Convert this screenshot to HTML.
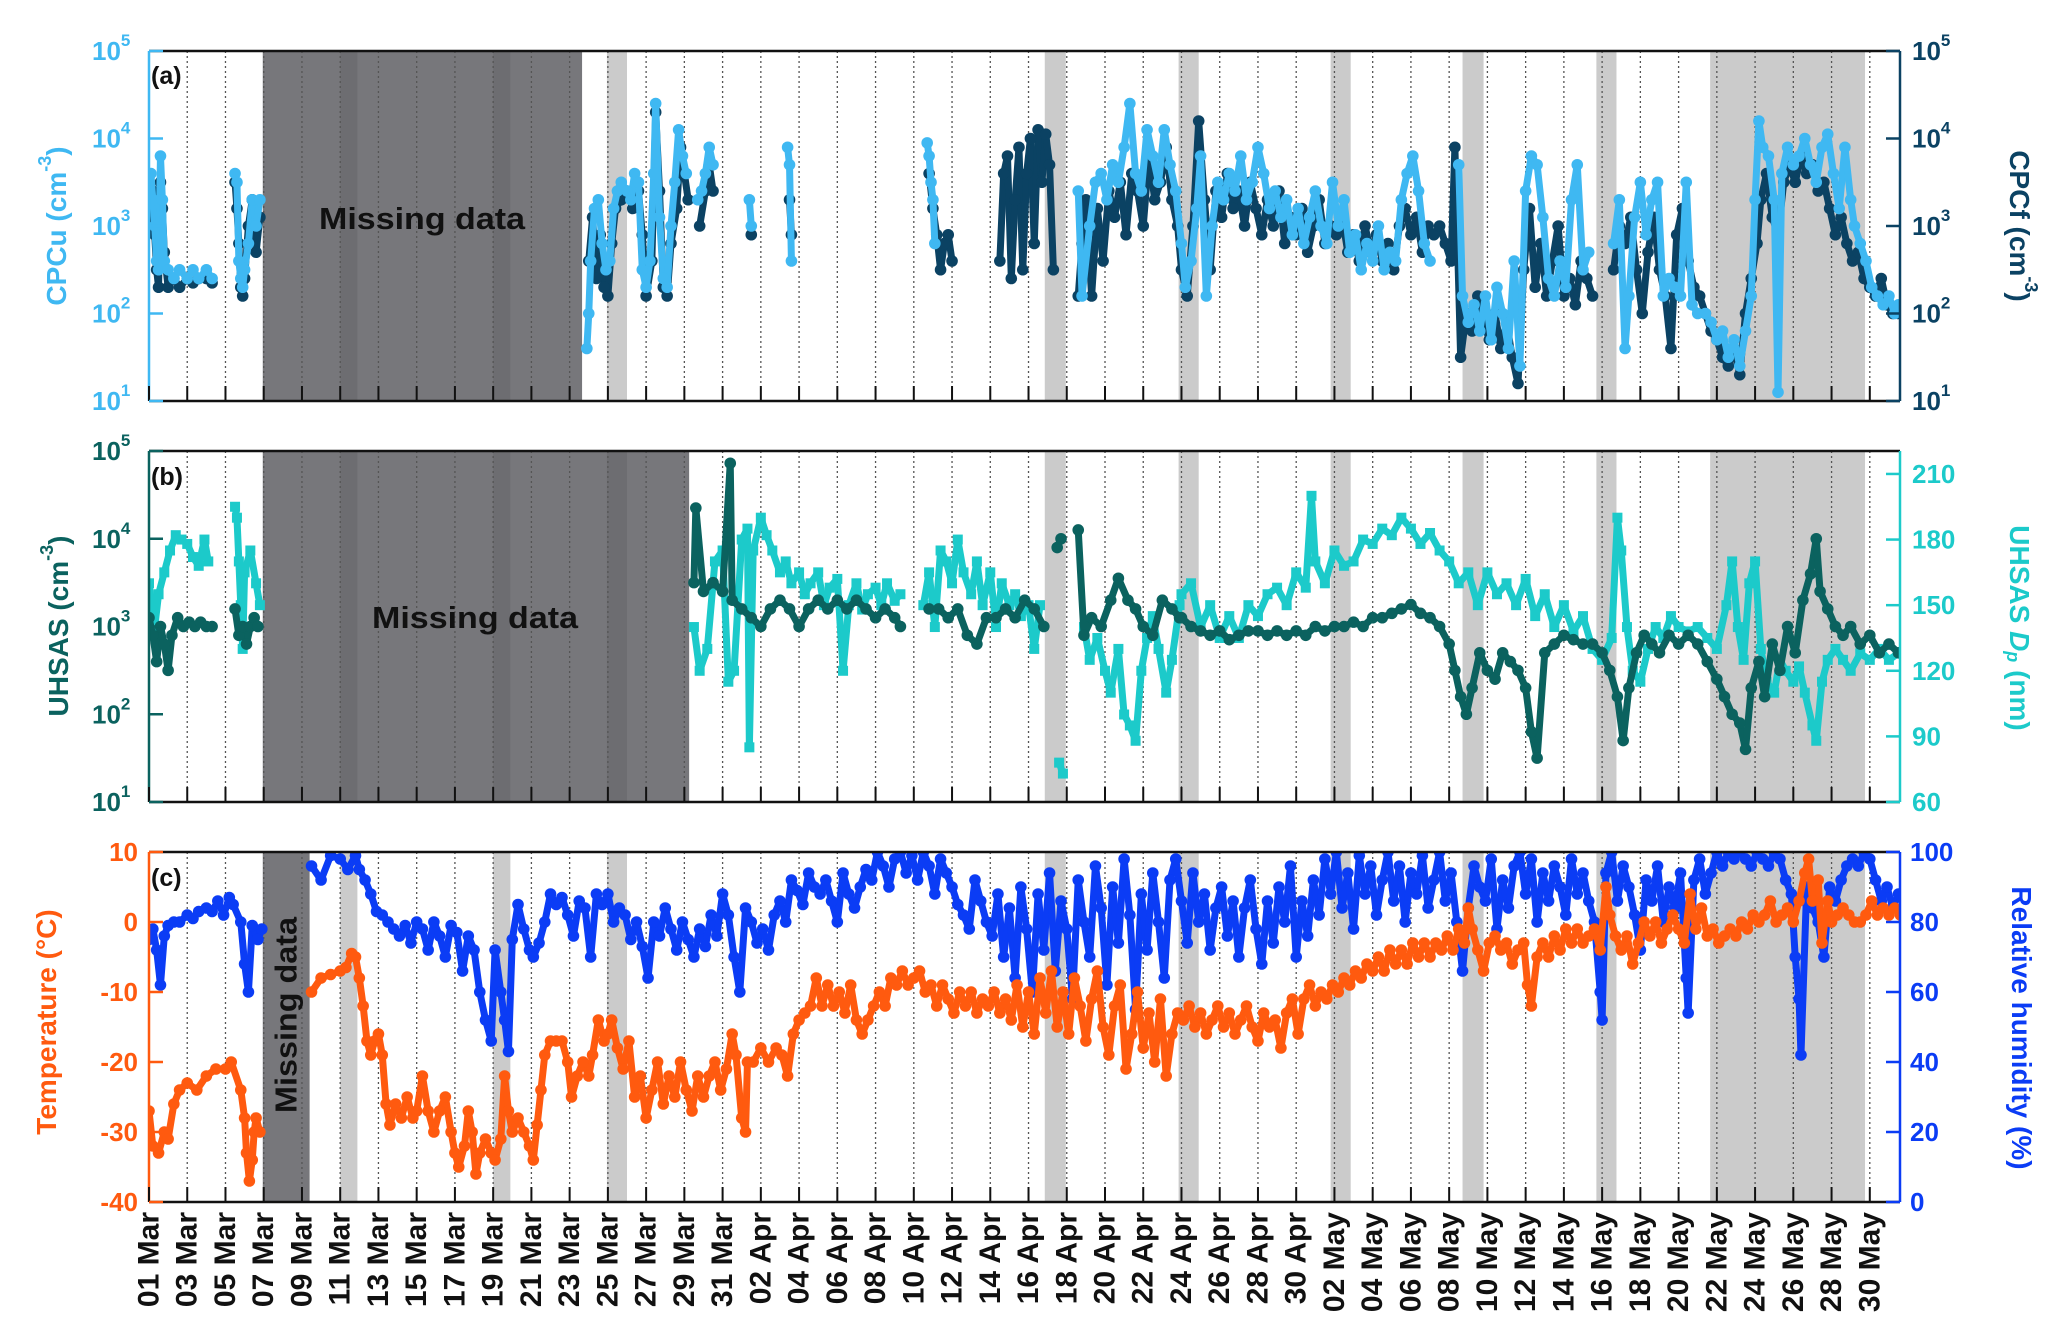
<!DOCTYPE html>
<html><head><meta charset="utf-8">
<style>
html,body{margin:0;padding:0;background:#fff;}
svg{display:block;font-family:"Liberation Sans",Arial,sans-serif;font-weight:bold;}
</style></head>
<body>
<svg id="chart" xmlns="http://www.w3.org/2000/svg" width="2067" height="1340" viewBox="0 0 2067 1340">
<defs>
<clipPath id="clipA"><rect x="149" y="51" width="1751" height="350"/></clipPath>
<clipPath id="clipB"><rect x="149" y="451" width="1751" height="351"/></clipPath>
<clipPath id="clipC"><rect x="149" y="852" width="1751" height="350"/></clipPath>
</defs>
<g id="root"></g>
</svg>
<script>
// ---------- data (day 0 = 01 Mar 00:00) ----------
const tickDays = [0,2,4,6,8,10,12,14,16,18,20,22,24,26,28,30,32,34,36,38,40,42,44,46,48,50,52,54,56,58,60,62,64,66,68,70,72,74,76,78,80,82,84,86,88,90];
const lightBands = [[10.0,0.9],[18.0,0.9],[23.95,1.05],[46.85,1.1],[53.85,1.05],[61.8,1.05],[68.7,1.1],[75.7,1.05],[81.65,8.1]];
const darkA = [5.95,16.7];
const darkB = [5.95,22.3];
const darkC = [5.95,2.45];
const logTicks = [1,2,3,4,5];
const dpTicks = [60,90,120,150,180,210];
const tempTicks = [-40,-30,-20,-10,0,10];
const rhTicks = [0,20,40,60,80,100];

const cpcfLog10 = [[0,3.0],[0.2,3.4],[0.3,2.9],[0.4,2.5],[0.5,2.3],[0.6,3.5],[0.7,3.2],[0.8,2.7],[1.0,2.3],[1.3,2.4],[1.6,2.3],[2.0,2.4],[2.3,2.35],[2.6,2.4],[3.0,2.4],[3.3,2.35],
[4.5,3.5],[4.6,3.2],[4.7,2.8],[4.8,2.3],[4.9,2.2],[5.0,2.4],[5.2,3.0],[5.4,3.3],[5.6,2.7],[5.8,3.1],
[23.0,2.6],[23.2,3.1],[23.4,2.4],[23.6,2.9],[23.8,2.3],[24.0,2.2],[24.2,2.8],[24.4,3.2],[24.7,3.3],[25.0,3.4],[25.3,3.2],[25.6,3.4],[25.8,2.9],[26.0,2.2],[26.3,2.6],[26.5,4.3],[26.7,3.4],[26.9,2.3],[27.1,2.2],[27.3,2.8],[27.6,3.2],[27.8,3.9],[28.0,3.6],[28.2,3.3],[28.8,3.0],[29.1,3.4],[29.3,3.7],[29.5,3.4],
[31.5,2.9],[33.5,3.3],[33.6,2.9],
[40.8,3.6],[41.0,3.2],[41.2,2.9],[41.4,2.5],[41.6,2.8],[41.8,2.9],[42.0,2.6],
[44.5,2.6],[44.7,3.6],[44.9,3.8],[45.1,2.4],[45.3,3.3],[45.5,3.9],[45.7,2.5],[45.9,3.6],[46.1,4.0],[46.3,2.8],[46.5,4.1],[46.7,3.5],[46.9,4.05],[47.1,3.7],[47.3,2.5],
[48.6,2.2],[48.8,2.8],[49.0,3.3],[49.3,2.2],[49.6,3.2],[49.9,2.6],[50.2,3.4],[50.5,3.1],[50.8,3.5],[51.1,2.9],[51.4,3.6],[51.7,3.4],[52.0,3.0],[52.3,3.8],[52.6,3.3],[52.9,3.5],[53.2,3.9],[53.5,3.3],[53.8,3.0],
[54.0,2.5],[54.3,2.2],[54.6,3.0],[54.9,4.2],[55.2,3.3],[55.5,2.5],[55.8,3.4],[56.1,3.1],[56.4,3.6],[56.7,3.2],[57.0,3.4],[57.3,3.0],[57.6,3.5],[57.9,3.2],[58.2,2.9],[58.5,3.3],[58.8,3.0],[59.1,3.4],[59.4,2.8],[59.7,3.1],[60.0,2.9],[60.3,3.2],[60.6,2.7],[60.9,3.0],[61.2,3.3],[61.5,2.8],[61.8,3.0],[62.1,2.9],[62.4,3.1],[62.7,2.7],[63.0,2.9],[63.3,2.6],[63.6,3.0],[63.9,2.7],[64.2,2.9],[64.5,2.6],[64.8,2.8],[65.1,2.5],[65.4,3.0],[65.7,3.2],[66.0,2.9],[66.3,3.1],[66.6,2.7],[66.9,3.0],[67.2,2.9],[67.5,3.0],[67.8,2.8],[68.1,2.6],[68.3,3.9],
[68.6,1.5],[68.9,2.0],[69.2,1.8],[69.5,2.2],[69.8,1.9],[70.1,1.7],[70.4,2.0],[70.7,1.6],[71.0,1.9],[71.3,1.5],[71.6,1.2],[71.9,2.5],[72.2,3.2],[72.5,2.3],[72.8,2.8],[73.1,2.2],[73.4,2.6],[73.7,3.0],[74.0,2.2],[74.3,2.4],[74.6,2.1],[74.9,2.6],[75.2,2.4],[75.5,2.2],
[76.6,2.5],[76.9,3.0],[77.2,2.8],[77.5,3.1],[77.8,2.5],[78.1,2.0],[78.4,2.7],[78.7,3.1],[79.0,2.5],[79.3,2.2],[79.6,1.6],[79.9,2.9],[80.2,3.2],[80.5,2.6],[80.8,2.3],[81.1,2.2],
[81.4,2.0],[81.7,1.8],[82.0,1.7],[82.3,1.5],[82.6,1.4],[82.9,1.6],[83.2,1.3],[83.5,2.0],[83.8,2.4],[84.1,2.8],[84.3,3.3],[84.6,3.6],[84.9,3.1],[85.2,2.9],[85.5,3.5],[85.8,3.7],[86.1,3.5],[86.4,3.8],[86.7,3.6],[87.0,3.7],[87.3,3.4],[87.6,3.5],[87.9,3.2],[88.2,2.9],[88.5,3.1],[88.8,2.8],[89.1,2.6],[89.4,2.7],[89.7,2.4],[90.0,2.3],[90.3,2.2],[90.6,2.4],[90.9,2.1],[91.2,2.0],[91.5,2.0]];

const cpcuLog10 = [[0,3.5],[0.1,3.6],[0.2,3.3],[0.3,3.0],[0.4,2.6],[0.5,2.5],[0.6,3.8],[0.7,3.3],[0.8,2.6],[1.0,2.5],[1.3,2.4],[1.6,2.5],[2.0,2.4],[2.3,2.5],[2.6,2.4],[3.0,2.5],[3.3,2.4],
[4.5,3.6],[4.6,3.5],[4.7,2.6],[4.8,2.4],[4.9,2.3],[5.0,2.5],[5.2,2.8],[5.4,3.3],[5.6,3.0],[5.8,3.3],
[22.9,1.6],[23.0,2.0],[23.1,2.6],[23.3,3.2],[23.5,3.3],[23.7,2.8],[23.9,2.5],[24.1,2.6],[24.3,3.2],[24.5,3.4],[24.7,3.5],[25.0,3.4],[25.2,3.3],[25.4,3.6],[25.6,3.5],[25.8,2.5],[26.0,2.3],[26.2,2.6],[26.4,3.6],[26.5,4.4],[26.7,3.1],[26.9,2.4],[27.1,2.3],[27.3,3.0],[27.5,3.5],[27.7,4.1],[27.9,3.8],[28.1,3.6],[28.7,3.3],[28.9,3.4],[29.1,3.6],[29.3,3.9],[29.5,3.7],
[31.4,3.3],[31.5,3.0],[33.4,3.9],[33.5,3.7],[33.6,2.6],
[40.7,3.95],[40.8,3.8],[40.9,3.5],[41.0,3.3],[41.1,2.8],
[48.6,3.4],[48.8,2.2],[49.2,3.0],[49.5,3.5],[49.8,3.6],[50.1,3.3],[50.4,3.7],[50.7,3.5],[51.0,3.9],[51.3,4.4],[51.6,3.6],[51.9,3.4],[52.2,4.1],[52.5,3.8],[52.8,3.5],[53.1,4.1],[53.4,3.7],[53.7,3.4],
[54.0,2.8],[54.2,2.3],[54.5,2.6],[54.8,3.2],[55.0,3.8],[55.3,2.2],[55.6,3.0],[55.9,3.5],[56.2,3.3],[56.5,3.6],[56.8,3.4],[57.1,3.8],[57.4,3.3],[57.7,3.5],[58.0,3.9],[58.3,3.6],[58.6,3.2],[58.9,3.4],[59.2,3.1],[59.5,3.3],[59.8,2.9],[60.1,3.2],[60.4,2.8],[60.7,3.1],[61.0,3.4],[61.3,3.0],[61.6,2.8],[61.9,3.5],[62.2,3.0],[62.5,3.3],[62.8,2.7],[63.1,2.9],[63.4,2.5],[63.7,2.8],[64.0,2.6],[64.3,3.0],[64.6,2.5],[64.9,2.7],[65.2,2.6],[65.5,3.3],[65.8,3.6],[66.1,3.8],[66.4,3.4],[66.7,2.8],[67.0,2.6],
[68.5,3.7],[68.7,2.2],[69.0,1.9],[69.3,2.1],[69.6,1.8],[69.9,2.2],[70.2,1.7],[70.5,2.3],[70.8,2.0],[71.1,1.6],[71.4,2.6],[71.7,1.4],[72.0,3.4],[72.3,3.8],[72.6,3.7],[72.9,3.1],[73.2,2.4],[73.5,2.2],[73.8,2.6],[74.1,2.3],[74.4,3.3],[74.7,3.7],[75.0,2.5],[75.3,2.7],
[76.6,2.8],[76.9,3.3],[77.2,1.6],[77.4,2.2],[77.7,3.1],[78.0,3.5],[78.3,2.9],[78.6,3.3],[78.9,3.5],[79.2,2.2],[79.5,2.4],[79.8,2.3],[80.1,2.2],[80.4,3.5],[80.7,2.1],[81.0,2.0],
[81.4,2.0],[81.7,1.9],[82.0,1.7],[82.3,1.8],[82.6,1.5],[82.9,1.7],[83.2,1.4],[83.5,1.8],[83.8,2.2],[84.0,3.3],[84.2,4.2],[84.4,3.9],[84.7,3.8],[85.0,3.3],[85.2,1.1],[85.4,3.6],[85.7,3.9],[86.0,3.7],[86.3,3.8],[86.6,4.0],[86.9,3.7],[87.2,3.5],[87.5,3.9],[87.8,4.05],[88.1,3.6],[88.4,3.2],[88.7,3.9],[89.0,3.3],[89.2,3.0],[89.5,2.8],[89.8,2.6],[90.1,2.3],[90.4,2.2],[90.7,2.1],[91.0,2.2],[91.3,2.0],[91.5,2.1]];

const dpNm = [[0,160],[0.3,140],[0.5,155],[0.8,165],[1.1,175],[1.4,182],[1.7,180],[2.0,178],[2.3,172],[2.6,168],[2.9,180],[3.1,170],
[4.5,195],[4.6,190],[4.7,170],[4.8,150],[4.9,130],[5.0,165],[5.3,175],[5.6,160],[5.8,150],
[28.5,140],[28.8,120],[29.2,130],[29.6,170],[30.0,175],[30.3,115],[30.6,120],[31.0,180],[31.3,185],[31.4,85],[31.6,175],[32.0,190],[32.3,182],[32.6,175],[33.0,165],[33.3,170],[33.6,160],[34.0,165],[34.3,155],[34.6,160],[35.0,165],[35.3,150],[35.6,158],[36.0,162],[36.3,120],[36.6,150],[37.0,160],[37.3,148],[37.6,155],[38.0,158],[38.3,150],[38.6,160],[39.0,152],[39.3,155],
[40.5,150],[40.8,165],[41.1,140],[41.4,175],[41.7,170],[42.0,160],[42.3,180],[42.6,165],[43.0,155],[43.3,170],[43.6,150],[44.0,165],[44.3,140],[44.6,160],[45.0,150],[45.3,155],[45.6,145],[46.0,150],[46.3,130],[46.6,150],
[47.6,78],[47.8,73],
[48.9,140],[49.2,125],[49.6,135],[50.0,120],[50.3,110],[50.7,130],[51.0,100],[51.3,95],[51.6,88],[51.9,120],[52.2,135],[52.5,145],[52.8,130],[53.2,110],[53.5,125],[53.9,150],
[54.0,155],[54.5,160],[55.0,140],[55.5,150],[56.0,135],[56.5,145],[57.0,135],[57.5,150],[58.0,145],[58.5,155],[59.0,158],[59.5,150],[60.0,165],[60.5,158],[60.8,200],[61.0,170],[61.5,160],[62.0,175],[62.5,168],[63.0,170],[63.5,180],[64.0,178],[64.5,185],[65.0,182],[65.5,190],[66.0,185],[66.5,178],[67.0,183],[67.5,175],[68.0,170],[68.5,160],[69.0,165],[69.5,150],[70.0,165],[70.5,155],[71.0,160],[71.5,150],[72.0,162],[72.5,145],[73.0,155],[73.5,140],[74.0,150],[74.5,138],[75.0,145],[75.5,130],[76.0,125],[76.5,135],[76.8,190],[77.0,175],[77.3,140],[77.6,120],[78.0,115],[78.4,130],[78.8,140],[79.2,135],[79.6,145],[80.0,140],[80.5,138],[81.0,140],[81.5,135],[82.0,130],[82.5,150],[82.8,170],[83.1,140],[83.4,125],[83.7,160],[84.0,170],[84.3,130],[84.6,115],[85.0,110],[85.3,125],[85.6,120],[86.0,115],[86.3,122],[86.6,110],[87.0,95],[87.2,88],[87.5,115],[87.8,125],[88.2,130],[88.6,125],[89.0,120],[89.5,128],[90.0,125],[90.5,130],[91.0,125],[91.5,128]];

const uhsasLog10 = [[0,3.1],[0.2,2.9],[0.4,2.6],[0.6,3.0],[0.8,2.8],[1.0,2.5],[1.2,2.9],[1.5,3.1],[1.8,3.0],[2.1,3.05],[2.4,3.0],[2.7,3.05],[3.0,3.0],[3.3,3.0],
[4.5,3.2],[4.7,2.9],[4.9,3.0],[5.1,2.8],[5.3,3.0],[5.5,3.1],[5.7,3.0],
[28.5,3.5],[28.6,4.35],[29.0,3.4],[29.5,3.5],[30.0,3.4],[30.4,4.86],[30.5,3.3],[31.0,3.2],[31.5,3.1],[32.0,3.0],[32.5,3.2],[33.0,3.3],[33.5,3.2],[34.0,3.0],[34.5,3.2],[35.0,3.3],[35.5,3.2],[36.0,3.3],[36.5,3.2],[37.0,3.3],[37.5,3.2],[38.0,3.1],[38.5,3.2],[39.0,3.1],[39.3,3.0],
[40.8,3.2],[41.3,3.2],[41.8,3.1],[42.3,3.2],[42.8,2.9],[43.3,2.8],[43.8,3.1],[44.3,3.1],[44.8,3.2],[45.3,3.1],[45.8,3.3],[46.3,3.2],[46.8,3.0],
[47.5,3.9],[47.7,4.0],[48.6,4.1],
[48.9,2.9],[49.3,3.1],[49.8,3.0],[50.3,3.3],[50.7,3.55],[51.2,3.3],[51.6,3.2],[52.0,3.0],[52.5,2.9],[53.0,3.3],[53.5,3.2],[53.9,3.1],
[54.0,3.1],[54.5,3.0],[55.0,2.95],[55.5,2.9],[56.0,2.95],[56.5,2.85],[57.0,2.9],[57.5,2.95],[58.0,2.95],[58.5,2.9],[59.0,2.95],[59.5,2.9],[60.0,2.95],[60.5,2.9],[61.0,3.0],[61.5,2.95],[62.0,3.0],[62.5,3.0],[63.0,3.05],[63.5,3.0],[64.0,3.1],[64.5,3.1],[65.0,3.15],[65.5,3.2],[66.0,3.25],[66.5,3.15],[67.0,3.1],[67.5,3.0],[68.0,2.8],[68.3,2.5],[68.6,2.2],[68.9,2.0],[69.2,2.3],[69.6,2.7],[70.0,2.5],[70.4,2.4],[70.8,2.7],[71.2,2.6],[71.6,2.5],[72.0,2.3],[72.3,1.8],[72.6,1.5],[73.0,2.7],[73.5,2.8],[74.0,2.9],[74.5,2.85],[75.0,2.8],[75.5,2.8],[76.0,2.7],[76.4,2.5],[76.8,2.2],[77.1,1.7],[77.4,2.3],[77.8,2.7],[78.2,2.9],[78.6,2.8],[79.0,2.7],[79.5,2.9],[80.0,2.8],[80.5,2.9],[81.0,2.8],[81.5,2.6],[82.0,2.4],[82.4,2.2],[82.8,2.0],[83.2,1.9],[83.5,1.6],[83.8,2.3],[84.2,2.6],[84.5,2.2],[84.9,2.8],[85.3,2.5],[85.7,3.0],[86.1,2.7],[86.5,3.3],[86.9,3.6],[87.2,4.0],[87.4,3.4],[87.8,3.2],[88.2,3.0],[88.6,2.9],[89.0,3.0],[89.5,2.8],[90.0,2.9],[90.5,2.7],[91.0,2.8],[91.5,2.7]];

const rhPct = [[0,75],[0.2,78],[0.4,72],[0.6,62],[0.8,76],[1.0,79],[1.3,80],[1.6,80],[2.0,82],[2.3,81],[2.6,83],[3.0,84],[3.3,83],[3.6,86],[3.9,82],[4.2,87],[4.4,85],[4.8,80],[5.0,68],[5.2,60],[5.4,79],[5.7,75],[5.9,78],
[8.5,96],[9.0,92],[9.5,99],[10.0,98],[10.4,95],[10.8,99],[11.0,95],[11.3,92],[11.6,88],[11.9,83],[12.2,82],[12.5,80],[12.8,78],[13.1,76],[13.4,79],[13.7,74],[14.0,80],[14.3,78],[14.6,72],[14.9,80],[15.2,76],[15.5,70],[15.8,79],[16.1,77],[16.4,66],[16.7,76],[17.0,72],[17.3,60],[17.6,52],[17.9,46],[18.1,72],[18.4,60],[18.6,52],[18.8,43],[19.0,75],[19.3,85],[19.6,78],[19.9,72],[20.1,70],[20.4,74],[20.7,80],[21.0,88],[21.3,85],[21.6,87],[21.9,82],[22.2,76],[22.5,86],[22.8,84],[23.1,70],[23.4,88],[23.7,85],[24.0,88],[24.3,80],[24.6,84],[24.9,82],[25.2,75],[25.5,80],[25.8,73],[26.1,64],[26.4,80],[26.7,76],[27.0,84],[27.3,78],[27.6,72],[27.9,80],[28.2,75],[28.5,70],[28.8,78],[29.1,73],[29.4,82],[29.7,76],[30.0,88],[30.3,82],[30.6,70],[30.9,60],[31.2,84],[31.5,80],[31.8,74],[32.1,78],[32.4,72],[32.7,82],[33.0,86],[33.3,80],[33.6,92],[33.9,89],[34.2,85],[34.5,94],[34.8,90],[35.1,88],[35.4,92],[35.7,86],[36.0,80],[36.3,94],[36.6,88],[36.9,84],[37.2,90],[37.5,95],[37.8,92],[38.1,100],[38.4,96],[38.7,90],[39.0,98],[39.3,100],[39.6,94],[39.9,99],[40.2,92],[40.5,100],[40.8,96],[41.1,88],[41.4,98],[41.7,94],[42.0,90],[42.3,85],[42.6,82],[42.9,78],[43.2,92],[43.5,86],[43.8,80],[44.1,76],[44.4,88],[44.7,70],[45.0,84],[45.3,64],[45.6,90],[45.9,78],[46.2,60],[46.5,88],[46.8,72],[47.1,94],[47.4,66],[47.7,86],[48.0,78],[48.3,58],[48.6,92],[48.9,80],[49.2,70],[49.5,96],[49.8,84],[50.1,62],[50.4,90],[50.7,74],[51.0,98],[51.3,82],[51.6,55],[51.9,88],[52.2,72],[52.5,94],[52.8,80],[53.1,64],[53.4,92],[53.7,98],[54.0,86],[54.3,74],[54.6,94],[54.9,80],[55.2,88],[55.5,72],[55.8,84],[56.1,90],[56.4,76],[56.7,86],[57.0,70],[57.3,84],[57.6,92],[57.9,78],[58.2,68],[58.5,86],[58.8,74],[59.1,90],[59.4,80],[59.7,96],[60.0,70],[60.3,86],[60.6,76],[60.9,92],[61.2,82],[61.5,98],[61.8,88],[62.1,100],[62.4,84],[62.7,94],[63.0,78],[63.3,99],[63.6,88],[63.9,96],[64.2,82],[64.5,92],[64.8,100],[65.1,86],[65.4,96],[65.7,80],[66.0,94],[66.3,88],[66.6,99],[66.9,84],[67.2,92],[67.5,100],[67.8,86],[68.1,94],[68.4,80],[68.7,66],[69.0,84],[69.3,96],[69.6,90],[69.9,86],[70.2,98],[70.5,78],[70.8,92],[71.1,84],[71.4,96],[71.7,100],[72.0,88],[72.3,98],[72.6,80],[72.9,94],[73.2,86],[73.5,96],[73.8,90],[74.1,82],[74.4,98],[74.7,88],[75.0,94],[75.3,86],[75.6,80],[75.9,60],[76.0,52],[76.2,94],[76.5,100],[76.8,86],[77.1,96],[77.4,90],[77.7,82],[78.0,72],[78.3,92],[78.6,86],[78.9,96],[79.2,80],[79.5,90],[79.8,84],[80.1,94],[80.4,64],[80.5,54],[80.8,92],[81.1,98],[81.4,88],[81.7,94],[82.0,100],[82.3,96],[82.6,100],[82.9,98],[83.2,100],[83.5,98],[83.8,96],[84.1,100],[84.4,98],[84.7,96],[85.0,100],[85.3,98],[85.6,92],[85.9,88],[86.1,70],[86.3,58],[86.4,42],[86.7,90],[87.0,84],[87.3,80],[87.6,70],[87.9,90],[88.2,86],[88.5,92],[88.8,96],[89.1,98],[89.4,96],[89.7,100],[90.0,98],[90.3,92],[90.6,86],[90.9,90],[91.2,84],[91.5,88]];

const tempC = [[0,-27],[0.2,-32],[0.5,-33],[0.8,-30],[1.0,-31],[1.3,-26],[1.6,-24],[2.0,-23],[2.5,-24],[3.0,-22],[3.5,-21],[4.0,-21],[4.3,-20],
[4.8,-24],[5.0,-28],[5.1,-33],[5.25,-37],[5.4,-34],[5.5,-30],[5.6,-28],[5.8,-30],
[8.5,-10],[9.0,-8],[9.5,-7.5],[10.0,-7],[10.3,-6.5],[10.6,-4.5],[10.8,-5],[11.0,-8],[11.2,-12],[11.4,-17],[11.6,-19],[11.8,-17],[12.0,-16],[12.2,-19],[12.4,-26],[12.6,-29],[12.9,-26],[13.2,-28],[13.5,-25],[13.8,-28],[14.0,-27],[14.3,-22],[14.6,-27],[14.9,-30],[15.2,-27],[15.5,-25],[15.8,-30],[16.0,-33],[16.2,-35],[16.5,-32],[16.7,-27],[16.9,-30],[17.1,-36],[17.3,-33],[17.6,-31],[17.9,-33],[18.1,-34],[18.4,-31],[18.6,-22],[18.8,-27],[19.0,-30],[19.3,-28],[19.6,-30],[19.9,-32],[20.1,-34],[20.3,-29],[20.5,-24],[20.7,-19],[21.0,-17],[21.3,-17],[21.6,-17],[21.9,-20],[22.1,-25],[22.4,-22],[22.7,-20],[23.0,-22],[23.2,-19],[23.5,-14],[23.8,-17],[24.0,-16],[24.2,-14],[24.5,-18],[24.8,-21],[25.1,-17],[25.4,-25],[25.7,-22],[26.0,-28],[26.3,-24],[26.6,-20],[26.9,-26],[27.2,-22],[27.5,-25],[27.8,-20],[28.1,-24],[28.4,-27],[28.7,-22],[29.0,-25],[29.3,-22],[29.6,-20],[29.9,-24],[30.2,-21],[30.5,-16],[30.7,-19],[31.0,-28],[31.2,-30],[31.3,-20],[31.6,-20],[32.0,-18],[32.4,-20],[32.8,-18],[33.1,-19],[33.4,-22],[33.7,-16],[34.0,-14],[34.3,-13],[34.6,-12],[34.9,-8],[35.2,-12],[35.5,-9],[35.8,-12],[36.1,-10],[36.4,-13],[36.7,-9],[37.0,-14],[37.3,-16],[37.6,-14],[37.9,-12],[38.2,-10],[38.5,-12],[38.8,-8],[39.1,-9],[39.4,-7],[39.7,-9],[40.0,-8],[40.3,-7],[40.6,-10],[40.9,-9],[41.2,-12],[41.5,-9],[41.8,-11],[42.1,-13],[42.4,-10],[42.7,-12],[43.0,-10],[43.3,-13],[43.6,-11],[43.9,-12],[44.2,-10],[44.5,-13],[44.8,-11],[45.1,-14],[45.4,-9],[45.7,-15],[46.0,-10],[46.3,-16],[46.6,-8],[46.9,-13],[47.2,-7],[47.5,-15],[47.8,-10],[48.1,-16],[48.4,-8],[48.7,-12],[49.0,-17],[49.3,-11],[49.6,-7],[49.9,-15],[50.2,-19],[50.5,-12],[50.8,-9],[51.1,-21],[51.4,-16],[51.7,-10],[52.0,-18],[52.3,-13],[52.6,-20],[52.9,-11],[53.2,-22],[53.5,-16],[53.8,-13],[54.1,-14],[54.4,-12],[54.7,-15],[55.0,-13],[55.3,-16],[55.6,-14],[55.9,-12],[56.2,-15],[56.5,-13],[56.8,-16],[57.1,-14],[57.4,-12],[57.7,-15],[58.0,-17],[58.3,-13],[58.6,-15],[58.9,-14],[59.2,-18],[59.5,-13],[59.8,-11],[60.1,-16],[60.4,-11],[60.7,-9],[61.0,-12],[61.3,-10],[61.6,-11],[61.9,-9],[62.2,-10],[62.5,-8],[62.8,-9],[63.1,-7],[63.4,-8],[63.7,-6],[64.0,-7],[64.3,-5],[64.6,-7],[64.9,-4],[65.2,-6],[65.5,-4],[65.8,-6],[66.1,-3],[66.4,-5],[66.7,-3],[67.0,-5],[67.3,-3],[67.6,-4],[67.9,-2],[68.2,-4],[68.5,-1],[68.8,-3],[69.0,2],[69.2,-1],[69.5,-4],[69.8,-7],[70.1,-3],[70.4,-2],[70.7,-4],[71.0,-3],[71.3,-6],[71.6,-4],[71.9,-3],[72.1,-9],[72.3,-12],[72.6,-5],[72.9,-3],[73.2,-5],[73.5,-2],[73.8,-4],[74.1,-1],[74.4,-3],[74.7,-1],[75.0,-3],[75.3,-2],[75.6,-1],[75.9,-4],[76.2,5],[76.4,1],[76.7,-2],[77.0,-4],[77.3,-2],[77.6,-6],[77.9,-3],[78.2,0],[78.5,-2],[78.8,0],[79.1,-3],[79.4,-1],[79.7,1],[80.0,-1],[80.3,-3],[80.6,4],[80.9,-1],[81.2,2],[81.5,-2],[81.8,-1],[82.1,-3],[82.4,-2],[82.7,-1],[83.0,-2],[83.3,0],[83.6,-1],[83.9,1],[84.2,0],[84.5,1],[84.8,3],[85.1,0],[85.4,1],[85.7,2],[86.0,0],[86.3,3],[86.6,7],[86.8,9],[87.0,3],[87.3,6],[87.5,-3],[87.8,3],[88.0,0],[88.3,1],[88.6,2],[88.9,1],[89.2,0],[89.5,0],[89.8,1],[90.1,3],[90.4,1],[90.7,2],[91.0,1],[91.3,2],[91.6,1]];

// ---------- axis functions ----------
const NS = "http://www.w3.org/2000/svg";
const X0 = 149, X1 = 1900, DAYPX = 19.12;
const PA = {top:51, bot:401}, PB = {top:451, bot:802}, PC = {top:852, bot:1202};
function xDay(d){ return X0 + d*DAYPX; }
function yLogA(v){ return PA.bot - (v-1)*(PA.bot-PA.top)/4; }
function yLogB(v){ return PB.bot - (v-1)*(PB.bot-PB.top)/4; }
function yDp(v){ return 802 - (v-60)*2.187; }
function yTemp(v){ return PC.bot - (v+40)*(PC.bot-PC.top)/50; }
function yRH(v){ return PC.bot - v*(PC.bot-PC.top)/100; }
function dateLabel(d){
  let m, dd;
  if (d < 31){ m='Mar'; dd=d+1; } else if (d < 61){ m='Apr'; dd=d-30; } else { m='May'; dd=d-60; }
  return (dd<10?'0':'')+dd+' '+m;
}

const root = document.getElementById('root');
function el(tag, attrs, parent){
  const e = document.createElementNS(NS, tag);
  for (const k in attrs) e.setAttribute(k, attrs[k]);
  (parent||root).appendChild(e);
  return e;
}

function drawPanel(P, dark, clipId, key){
  const g = el('g', {'clip-path':'url(#'+clipId+')'});
  
  
  lightBands.forEach(b=>{
    const r = el('rect',{x:xDay(b[0]),y:P.top,width:b[1]*DAYPX,height:P.bot-P.top,fill:'#cbcbcb'},g);
    
    
  });
  const dr = el('rect',{x:xDay(dark[0]),y:P.top,width:dark[1]*DAYPX,height:P.bot-P.top,fill:'rgb(88,87,93)','fill-opacity':0.81},g);
  
  
  tickDays.forEach(d=>{
    if (d===0) return;
    const l = el('line',{x1:xDay(d),x2:xDay(d),y1:P.top,y2:P.bot,stroke:'#555','stroke-width':1.3,'stroke-dasharray':'2 3'},g);
    
    
  });
  return g;
}

function drawSeries(parent, data, yf, color, name, marker){
  const g = el('g', {}, parent);
  
  
  for (let i=1;i<data.length;i++){
    if (data[i][0]-data[i-1][0] <= 0.55){
      const s = el('line',{x1:xDay(data[i-1][0]),y1:yf(data[i-1][1]),x2:xDay(data[i][0]),y2:yf(data[i][1]),stroke:color,'stroke-width':7,'stroke-linecap':'round'},g);
      
      
    }
  }
  data.forEach(p=>{
    let m;
    if (marker==='square'){
      m = el('rect',{x:xDay(p[0])-5,y:yf(p[1])-5,width:10,height:10,fill:color},g);
    } else {
      m = el('circle',{cx:xDay(p[0]),cy:yf(p[1]),r:5.8,fill:color},g);
    }
    
    
  });
}

function text(x,y,str,attrs,name){
  const t = el('text', Object.assign({x:x,y:y}, attrs));
  t.textContent = str;
  
  
  return t;
}
function powLabel(x,y,exp,color,name){
  const t = el('text',{x:x,y:y+17,fill:color,'font-size':26});
  
  
  const a = document.createElementNS(NS,'tspan'); a.textContent='10'; t.appendChild(a);
  const b = document.createElementNS(NS,'tspan'); b.textContent=String(exp); b.setAttribute('font-size','17'); b.setAttribute('dy','-14'); t.appendChild(b);
  return t;
}

function frame(P, lc, rc, key){
  const f = el('g',{});
  
  
  el('line',{x1:X0,x2:X1,y1:P.top,y2:P.top,stroke:'#111','stroke-width':2.5},f);
  el('line',{x1:X0,x2:X1,y1:P.bot,y2:P.bot,stroke:'#111','stroke-width':2.5},f);
  el('line',{x1:X0,x2:X0,y1:P.top,y2:P.bot,stroke:lc,'stroke-width':2.5},f);
  el('line',{x1:X1,x2:X1,y1:P.top,y2:P.bot,stroke:rc,'stroke-width':2.5},f);
  tickDays.forEach(d=>{
    const t = el('line',{x1:xDay(d),x2:xDay(d),y1:P.bot,y2:P.bot-15,stroke:'#111','stroke-width':2},f);
    
    
  });
}

// ---------- panel a ----------
const gA = drawPanel(PA, darkA, 'clipA', 'a');
drawSeries(gA, cpcfLog10, yLogA, '#0b4263', 'cpcf');
drawSeries(gA, cpcuLog10, yLogA, '#3fb8f2', 'cpcu');
frame(PA, '#3fb8f2', '#0b4263', 'a');
logTicks.forEach(v=>{
  el('line',{x1:X0,x2:X0+14,y1:yLogA(v),y2:yLogA(v),stroke:'#3fb8f2','stroke-width':2.5});
  el('line',{x1:X1,x2:X1-14,y1:yLogA(v),y2:yLogA(v),stroke:'#0b4263','stroke-width':2.5});
  powLabel(92,yLogA(v)-8,v,'#3fb8f2','cpcu-tick-label');
  powLabel(1912,yLogA(v)-8,v,'#0b4263','cpcf-tick-label');
});

// ---------- panel b ----------
const gB = drawPanel(PB, darkB, 'clipB', 'b');
drawSeries(gB, dpNm, yDp, '#1ccaca', 'uhsas-dp', 'square');
drawSeries(gB, uhsasLog10, yLogB, '#0b625f', 'uhsas-conc');
frame(PB, '#0b625f', '#1ccaca', 'b');
logTicks.forEach(v=>{
  el('line',{x1:X0,x2:X0+14,y1:yLogB(v),y2:yLogB(v),stroke:'#0b625f','stroke-width':2.5});
  powLabel(92,yLogB(v)-8,v,'#0b625f','uhsas-tick-label');
});
dpTicks.forEach(v=>{
  el('line',{x1:X1,x2:X1-14,y1:yDp(v),y2:yDp(v),stroke:'#1ccaca','stroke-width':2.5});
  text(1912,yDp(v)+9,String(v),{fill:'#1ccaca','font-size':26},'dp-tick-label');
});

// ---------- panel c ----------
const gC = drawPanel(PC, darkC, 'clipC', 'c');
drawSeries(gC, rhPct, yRH, '#0b3cf5', 'relative-humidity');
drawSeries(gC, tempC, yTemp, '#ff5a0f', 'temperature');
frame(PC, '#ff5a0f', '#0b3cf5', 'c');
tempTicks.forEach(v=>{
  el('line',{x1:X0,x2:X0+14,y1:yTemp(v),y2:yTemp(v),stroke:'#ff5a0f','stroke-width':2.5});
  text(138,yTemp(v)+9,String(v),{fill:'#ff5a0f','font-size':26,'text-anchor':'end'},'temperature-tick-label');
});
rhTicks.forEach(v=>{
  el('line',{x1:X1,x2:X1-14,y1:yRH(v),y2:yRH(v),stroke:'#0b3cf5','stroke-width':2.5});
  text(1910,yRH(v)+9,String(v),{fill:'#0b3cf5','font-size':26},'rh-tick-label');
});

// ---------- x labels ----------
tickDays.forEach(d=>{
  text(0,0,dateLabel(d),{fill:'#111','font-size':30,'text-anchor':'end','dominant-baseline':'central',transform:'translate('+xDay(d)+',1212) rotate(-90)'},'x-date-label');
});

// ---------- annotations ----------
text(151,84,'(a)',{fill:'#111','font-size':25},'panel-a-label');
text(151,485,'(b)',{fill:'#111','font-size':25},'panel-b-label');
text(151,886,'(c)',{fill:'#111','font-size':25},'panel-c-label');
text(422,229,'Missing data',{fill:'#111','font-size':31,'text-anchor':'middle',textLength:206,lengthAdjust:'spacingAndGlyphs'},'missing-data-label-a');
text(475,628,'Missing data',{fill:'#111','font-size':31,'text-anchor':'middle',textLength:206,lengthAdjust:'spacingAndGlyphs'},'missing-data-label-b');
text(0,0,'Missing data',{fill:'#111','font-size':31,'text-anchor':'middle','dominant-baseline':'central',textLength:196,lengthAdjust:'spacingAndGlyphs',transform:'translate(286,1015) rotate(-90)'},'missing-data-label-c');

function ytitle(x,y,rot,color,parts,name){
  const t = el('text',{x:0,y:0,fill:color,'font-size':28,'text-anchor':'middle','dominant-baseline':'central',transform:'translate('+x+','+y+') rotate('+rot+')'});
  
  
  parts.forEach(p=>{
    const s = document.createElementNS(NS,'tspan');
    s.textContent = p[0];
    if (p[1]==='sup'){ s.setAttribute('font-size','18'); s.setAttribute('dy','-11'); }
    if (p[1]==='down'){ s.setAttribute('dy','11'); }
    if (p[1]==='sub'){ s.setAttribute('font-size','18'); s.setAttribute('dy','7'); s.setAttribute('font-style','italic'); }
    if (p[1]==='up'){ s.setAttribute('dy','-7'); }
    if (p[1]==='it'){ s.setAttribute('font-style','italic'); }
    t.appendChild(s);
  });
}
ytitle(56,226,-90,'#3fb8f2',[['CPCu (cm'],['-3','sup'],[')','down']],'cpcu-axis-title');
ytitle(2020,226,90,'#0b4263',[['CPCf (cm'],['-3','sup'],[')','down']],'cpcf-axis-title');
ytitle(58,626,-90,'#0b625f',[['UHSAS (cm'],['-3','sup'],[')','down']],'uhsas-axis-title');
ytitle(2020,628,90,'#1ccaca',[['UHSAS '],['D','it'],['p','sub'],[' (nm)','up']],'uhsas-dp-axis-title');
ytitle(46,1022,-90,'#ff5a0f',[['Temperature (°C)']],'temperature-axis-title');
ytitle(2022,1028,90,'#0b3cf5',[['Relative humidity (%)']],'rh-axis-title');
</script>
</body></html>
